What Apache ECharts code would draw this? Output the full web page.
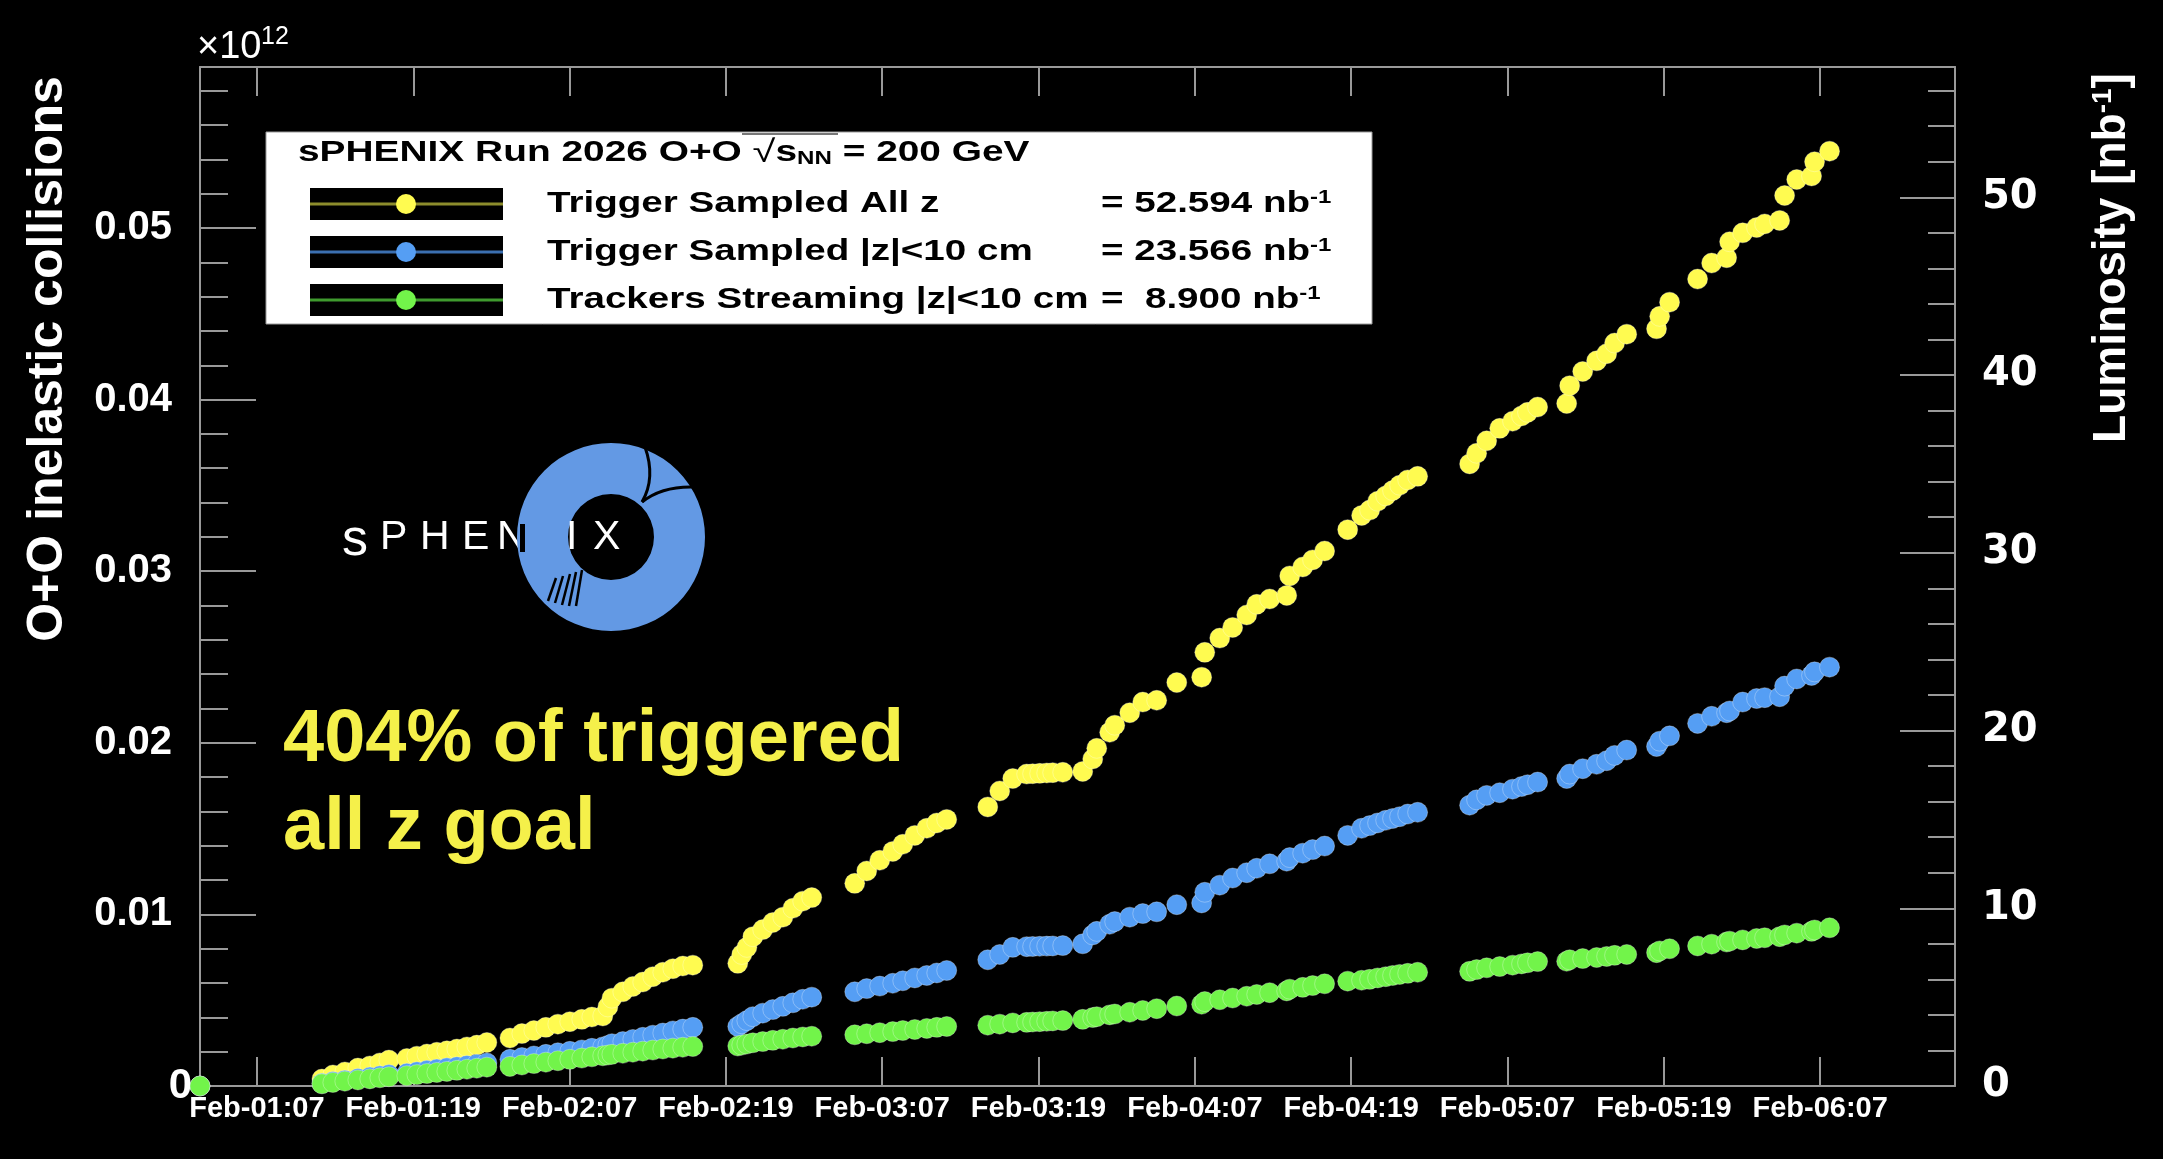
<!DOCTYPE html>
<html>
<head>
<meta charset="utf-8">
<script src="https://cdn.jsdelivr.net/npm/echarts/dist/echarts.min.js"></script>
<style>
html,body{margin:0;padding:0;background:#000;}
#chart{width:2163px;height:1159px;}
</style>
</head>
<body>
<div id="chart"></div>
<script>
// ---------------- DATA ----------------
// x = hours since Feb-01 00:00 (local time), y = integrated luminosity [nb^-1]
const hours = [2.63,
  11.99, 12.83, 13.75, 14.75, 15.67, 16.44, 17.13,
  18.51, 19.28, 20.05, 20.81, 21.58, 22.35, 23.12, 23.88, 24.65,
  26.42, 27.34, 28.26, 29.18, 30.10, 31.02, 31.94, 32.71,
  33.55, 33.94, 34.25, 35.09, 35.86, 36.62, 37.39, 38.16, 38.93, 39.69, 40.46,
  43.91, 44.22, 44.61, 45.07, 45.83, 46.60, 47.37, 48.14, 48.90, 49.59,
  52.89, 53.81, 54.81, 55.81, 56.58, 57.50, 58.42, 59.19, 59.95,
  63.10, 64.02, 65.02, 66.09, 66.55, 67.09, 67.63, 68.09, 68.86, 70.39, 71.16, 71.47, 72.46, 72.85, 74.00, 75.00, 76.07, 77.61,
  79.52, 79.76, 80.91, 81.90, 82.98, 83.75, 84.74, 86.05, 86.28, 87.28, 88.04, 88.96,
  90.73,
  91.80, 92.42, 93.03, 93.65, 94.18, 94.72, 95.34, 96.10,
  100.09, 100.63, 101.40, 102.40, 103.39, 104.08, 104.54, 105.31,
  107.54, 107.77, 108.77, 109.84, 110.61, 111.22, 112.15,
  114.44, 114.68, 115.44,
  117.59, 118.67, 119.82, 120.05, 121.05, 122.12, 122.74, 123.89, 124.27, 125.20, 126.34, 126.57, 127.72];

const lumiAllZ = [0,
  0.39, 0.62, 0.79, 1.01, 1.13, 1.30, 1.46,
  1.55, 1.68, 1.80, 1.90, 1.98, 2.08, 2.20, 2.30, 2.45,
  2.70, 2.95, 3.12, 3.30, 3.48, 3.62, 3.75, 3.88,
  3.94, 4.45, 4.94, 5.30, 5.60, 5.85, 6.15, 6.40, 6.60, 6.75, 6.80,
  6.90, 7.40, 7.80, 8.40, 8.80, 9.20, 9.50, 10.00, 10.40, 10.60,
  11.40, 12.10, 12.70, 13.20, 13.60, 14.10, 14.50, 14.80, 15.00,
  15.70, 16.60, 17.30, 17.55, 17.57, 17.59, 17.61, 17.63, 17.65, 17.70, 18.40, 19.00, 19.90, 20.30, 21.00, 21.60, 21.70, 22.70,
  23.00, 24.40, 25.20, 25.80, 26.50, 27.10, 27.40, 27.60, 28.70, 29.20, 29.60, 30.10,
  31.30,
  32.10, 32.40, 32.90, 33.20, 33.50, 33.80, 34.10, 34.30,
  35.00, 35.60, 36.30, 37.00, 37.40, 37.70, 37.90, 38.20,
  38.40, 39.40, 40.20, 40.80, 41.20, 41.80, 42.30,
  42.60, 43.30, 44.10,
  45.40, 46.30, 46.60, 47.50, 48.00, 48.30, 48.50, 48.70, 50.10, 51.00, 51.20, 52.00, 52.594];

const lumiZ10 = [0,
  0.15, 0.25, 0.33, 0.42, 0.50, 0.57, 0.64,
  0.72, 0.80, 0.88, 0.95, 1.02, 1.09, 1.16, 1.23, 1.30,
  1.50, 1.60, 1.69, 1.78, 1.87, 1.95, 2.03, 2.12,
  2.20, 2.28, 2.38, 2.50, 2.62, 2.74, 2.86, 2.98, 3.10, 3.20, 3.30,
  3.35, 3.50, 3.68, 3.90, 4.10, 4.30, 4.48, 4.68, 4.88, 5.00,
  5.30, 5.48, 5.62, 5.78, 5.92, 6.08, 6.22, 6.36, 6.50,
  7.10, 7.40, 7.80, 7.84, 7.85, 7.86, 7.87, 7.88, 7.90, 8.00, 8.50, 8.70, 9.10, 9.25, 9.50, 9.70, 9.80, 10.20,
  10.30, 10.90, 11.30, 11.70, 12.00, 12.25, 12.50, 12.65, 12.85, 13.10, 13.30, 13.50,
  14.10,
  14.50, 14.65, 14.80, 14.95, 15.05, 15.15, 15.30, 15.40,
  15.80, 16.10, 16.35, 16.50, 16.70, 16.85, 16.95, 17.10,
  17.30, 17.55, 17.85, 18.10, 18.30, 18.60, 18.90,
  19.10, 19.40, 19.70,
  20.40, 20.80, 21.00, 21.10, 21.60, 21.80, 21.85, 21.90, 22.50, 22.90, 23.10, 23.30, 23.566];

const lumiStream = [0,
  0.12, 0.20, 0.27, 0.34, 0.40, 0.46, 0.52,
  0.58, 0.64, 0.70, 0.76, 0.82, 0.88, 0.94, 1.00, 1.06,
  1.10, 1.18, 1.26, 1.34, 1.42, 1.50, 1.57, 1.64,
  1.70, 1.74, 1.78, 1.84, 1.90, 1.96, 2.02, 2.08, 2.13, 2.18, 2.22,
  2.25, 2.30, 2.36, 2.43, 2.50, 2.57, 2.63, 2.70, 2.76, 2.80,
  2.88, 2.94, 3.00, 3.06, 3.12, 3.18, 3.24, 3.30, 3.35,
  3.42, 3.48, 3.55, 3.58, 3.60, 3.62, 3.64, 3.66, 3.68, 3.75, 3.85, 3.90, 4.00, 4.05, 4.15, 4.25, 4.35, 4.50,
  4.60, 4.75, 4.85, 4.95, 5.05, 5.15, 5.25, 5.35, 5.45, 5.55, 5.65, 5.75,
  5.90,
  5.95, 6.00, 6.08, 6.15, 6.22, 6.28, 6.34, 6.40,
  6.45, 6.55, 6.65, 6.72, 6.80, 6.87, 6.93, 7.00,
  7.02, 7.10, 7.17, 7.23, 7.29, 7.35, 7.40,
  7.50, 7.60, 7.72,
  7.88, 7.98, 8.10, 8.15, 8.22, 8.30, 8.34, 8.40, 8.50, 8.60, 8.70, 8.78, 8.90];

const seriesNames = ['Trigger Sampled All z', 'Trigger Sampled |z|<10 cm', 'Trackers Streaming |z|<10 cm'];
const seriesTotals = ['52.594', '23.566', ' 8.900'];

const tickHours  = [7, 19, 31, 43, 55, 67, 79, 91, 103, 115, 127];
const tickLabels = ['Feb-01:07','Feb-01:19','Feb-02:07','Feb-02:19','Feb-03:07','Feb-03:19',
                    'Feb-04:07','Feb-04:19','Feb-05:07','Feb-05:19','Feb-06:07'];

const X_MIN = 2.63, X_MAX = 137.35;
const Y_LEFT_MAX = 0.05938;   // x10^12 collisions
const Y_RIGHT_MAX = 57.33;    // nb^-1

// ---------------- STYLE ----------------
const YELLOW = '#FFFB50', BLUE = '#559EF4', GREEN = '#72F44A';
const LINE_COLORS = ['#8C8C2C', '#3B6FB0', '#3F9A2E'];
const FRAME = '#999999';
const LOGO_BLUE = '#6399E4';
const FONT = '"Liberation Sans", Arial, Helvetica, sans-serif';

const chart = echarts.init(document.getElementById('chart'), null, {renderer: 'canvas'});

function mk(vals){ return hours.map((h, i) => [h, vals[i]]); }

function isMult(v, step){ const k = v / step; return Math.abs(k - Math.round(k)) < 1e-6; }

const leftLabelFmt = v => {
  if (!isMult(v, 0.01)) return '';
  const k = Math.round(v / 0.01);
  return k === 0 ? '{z|0}' : (k / 100).toFixed(2);
};
const rightLabelFmt = v => isMult(v, 10) ? String(Math.round(v)) : '';
const xLabelFmt = v => {
  const i = tickHours.findIndex(h => Math.abs(h - v) < 1e-6);
  return i >= 0 ? tickLabels[i] : '';
};

const tickStyle = {color: FRAME, width: 2};

// legend graphics
const colors = [YELLOW, BLUE, GREEN];
const legendEls = [
  {type:'rect', shape:{x:266, y:132, width:1106, height:192}, style:{fill:'#ffffff', stroke:'#9a9a9a', lineWidth:1}, z:20},
  {type:'text', x:298, y:153, scaleX:1.34, z:21, style:{
      text:'{b|sPHENIX Run 2026 O+O }{r|\u221A}{b|s}{sub|NN}{b| = 200 GeV}',
      align:'left', verticalAlign:'middle', textAlign:'left', textVerticalAlign:'middle',
      rich:{
        b:{fontSize:29, fontWeight:'bold', fontFamily:FONT, fill:'#000', color:'#000'},
        r:{fontSize:31, fontWeight:'normal', fontFamily:FONT, fill:'#000', color:'#000'},
        sub:{fontSize:18, fontWeight:'bold', fontFamily:FONT, fill:'#000', color:'#000', verticalAlign:'bottom', padding:[12,0,0,0]}
      }}},
  {type:'line', shape:{x1:742, y1:134, x2:838, y2:134}, style:{stroke:'#777', lineWidth:2}, z:21}
];
for (let i = 0; i < 3; i++) {
  const cy = 204 + 48 * i;
  legendEls.push(
    {type:'rect', shape:{x:310, y:cy-16, width:193, height:32}, style:{fill:'#000'}, z:21},
    {type:'line', shape:{x1:310, y1:cy, x2:503, y2:cy}, style:{stroke:LINE_COLORS[i], lineWidth:3}, z:22},
    {type:'circle', shape:{cx:406, cy:cy, r:10}, style:{fill:colors[i]}, z:23},
    {type:'text', x:547, y:cy, scaleX:1.33, z:22, style:{
        text:seriesNames[i], fill:'#000', font:'bold 29px ' + FONT,
        align:'left', verticalAlign:'middle', textAlign:'left', textVerticalAlign:'middle'}},
    {type:'text', x:1101, y:cy, scaleX:1.33, z:22, style:{
        text:'{m|= ' + seriesTotals[i] + ' nb}{s|-1}',
        align:'left', verticalAlign:'middle', textAlign:'left', textVerticalAlign:'middle',
        rich:{
          m:{fontSize:29, fontWeight:'bold', fontFamily:FONT, fill:'#000', color:'#000'},
          s:{fontSize:18, fontWeight:'bold', fontFamily:FONT, fill:'#000', color:'#000', verticalAlign:'top'}
        }}}
  );
}

// sPHENIX logo graphics
const logoLetters = [['s',342,541,52],['P',380,538,41],['H',420,538,41],['E',462,538,41]];
const logoEls = [];
logoLetters.forEach(l => logoEls.push({type:'text', x:l[1], y:l[2], z:10, z2:1, style:{
  text:l[0], fill:'#fff', font:'normal ' + l[3] + 'px ' + FONT, align:'left', verticalAlign:'middle',
  textAlign:'left', textVerticalAlign:'middle'}}));
logoEls.push(
  {type:'text', x:497, y:538, z:10, z2:1, style:{text:'N', fill:'#fff', font:'normal 41px ' + FONT,
    align:'left', verticalAlign:'middle', textAlign:'left', textVerticalAlign:'middle'}},
  {type:'ring', shape:{cx:611, cy:537, r:94, r0:43}, style:{fill:LOGO_BLUE}, z:10, z2:2},
  {type:'rect', shape:{x:520, y:524, width:5, height:28}, style:{fill:'#000'}, z:10, z2:3},
  {type:'bezierCurve', shape:{x1:645, y1:447, cpx1:656, cpy1:478, x2:642, y2:502}, style:{stroke:'#000', lineWidth:3, fill:null}, z:10, z2:3},
  {type:'bezierCurve', shape:{x1:642, y1:502, cpx1:662, cpy1:486, x2:694, y2:487}, style:{stroke:'#000', lineWidth:3, fill:null}, z:10, z2:3}
);
[[548,601,556,578],[555,603,563,576],[562,605,570,574],[569,606,576,572],[576,606,582,570]].forEach(s =>
  logoEls.push({type:'line', shape:{x1:s[0], y1:s[1], x2:s[2], y2:s[3]}, style:{stroke:'#000', lineWidth:2.5}, z:10, z2:3}));
logoEls.push(
  {type:'text', x:566, y:538, z:10, z2:4, style:{text:'I', fill:'#fff', font:'normal 41px ' + FONT,
    align:'left', verticalAlign:'middle', textAlign:'left', textVerticalAlign:'middle'}},
  {type:'text', x:593, y:538, z:10, z2:4, style:{text:'X', fill:'#fff', font:'normal 41px ' + FONT,
    align:'left', verticalAlign:'middle', textAlign:'left', textVerticalAlign:'middle'}}
);

const textEls = [
  // exponent of left axis
  {type:'text', x:197, y:48, z:10, style:{text:'\u00D710', fill:'#fff', font:'normal 38px ' + FONT,
    align:'left', verticalAlign:'middle', textAlign:'left', textVerticalAlign:'middle'}},
  {type:'text', x:261, y:37, z:10, style:{text:'12', fill:'#fff', font:'normal 25px ' + FONT,
    align:'left', verticalAlign:'middle', textAlign:'left', textVerticalAlign:'middle'}},
  // axis titles
  {type:'text', x:48, y:359, rotation:Math.PI/2, z:10, style:{text:'O+O inelastic collisions', fill:'#fff',
    font:'bold 50px ' + FONT, align:'center', verticalAlign:'middle', textAlign:'center', textVerticalAlign:'middle'}},
  {type:'text', x:2112, y:258, rotation:Math.PI/2, z:10, style:{
    text:'{m|Luminosity [nb}{s|-1}{m|]}', align:'center', verticalAlign:'middle', textAlign:'center', textVerticalAlign:'middle',
    rich:{
      m:{fontSize:46, fontWeight:'bold', fontFamily:FONT, fill:'#fff', color:'#fff'},
      s:{fontSize:28, fontWeight:'bold', fontFamily:FONT, fill:'#fff', color:'#fff', verticalAlign:'top'}
    }}},
  // annotation
  {type:'text', x:283, y:741, z:10, style:{text:'404% of triggered', fill:'#F5F04A', font:'bold 74px ' + FONT,
    align:'left', verticalAlign:'middle', textAlign:'left', textVerticalAlign:'middle'}},
  {type:'text', x:283, y:829, z:10, style:{text:'all z goal', fill:'#F5F04A', font:'bold 74px ' + FONT,
    align:'left', verticalAlign:'middle', textAlign:'left', textVerticalAlign:'middle'}}
];

const markerStyle = c => ({color:c, opacity:1, borderColor:'rgba(255,255,255,0.30)', borderWidth:1});

const option = {
  backgroundColor: '#000',
  animation: false,
  grid: {left:200, right:208, top:67, bottom:73, containLabel:false},
  xAxis: [
    {type:'value', min:X_MIN, max:X_MAX, position:'bottom',
     axisLine:{show:true, onZero:false, lineStyle:{color:FRAME, width:2}},
     axisTick:{show:true, inside:true, length:29, customValues:tickHours, lineStyle:tickStyle},
     axisLabel:{show:true, customValues:tickHours, formatter:xLabelFmt, color:'#fff', fontSize:29,
                fontWeight:'bold', fontFamily:FONT, margin:8, hideOverlap:false},
     splitLine:{show:false}},
    {type:'value', min:X_MIN, max:X_MAX, position:'top',
     axisLine:{show:true, onZero:false, lineStyle:{color:FRAME, width:2}},
     axisTick:{show:true, inside:true, length:29, customValues:tickHours, lineStyle:tickStyle},
     axisLabel:{show:false}, splitLine:{show:false}}
  ],
  yAxis: [
    {type:'value', min:0, max:Y_LEFT_MAX, interval:0.002, position:'left',
     axisLine:{show:true, onZero:false, lineStyle:{color:FRAME, width:2}},
     axisTick:{show:true, inside:true, length:28, lineStyle:tickStyle},
     axisLabel:{show:true, formatter:leftLabelFmt, color:'#fff', fontSize:40, fontWeight:'bold',
                fontFamily:FONT, margin:28, showMaxLabel:false,
                rich:{z:{fontSize:42, fontWeight:'bold', fontFamily:FONT, color:'#fff', padding:[0,-20,0,0]}}},
     splitLine:{show:false}},
    {type:'value', min:0, max:Y_LEFT_MAX, interval:0.01, position:'left',
     axisLine:{show:false}, axisTick:{show:true, inside:true, length:56, lineStyle:tickStyle},
     axisLabel:{show:false}, splitLine:{show:false}},
    {type:'value', min:0, max:Y_RIGHT_MAX, interval:2, position:'right',
     axisLine:{show:true, onZero:false, lineStyle:{color:FRAME, width:2}},
     axisTick:{show:true, inside:true, length:27, lineStyle:tickStyle},
     axisLabel:{show:true, formatter:rightLabelFmt, color:'#fff', fontSize:40, fontWeight:'bold',
                fontFamily:'"DejaVu Sans", sans-serif', margin:27, showMaxLabel:false},
     splitLine:{show:false}},
    {type:'value', min:0, max:Y_RIGHT_MAX, interval:10, position:'right',
     axisLine:{show:false}, axisTick:{show:true, inside:true, length:55, lineStyle:tickStyle},
     axisLabel:{show:false}, splitLine:{show:false}}
  ],
  series: [
    {name:seriesNames[0], type:'scatter', xAxisIndex:0, yAxisIndex:2, data:mk(lumiAllZ),
     symbol:'circle', symbolSize:20, itemStyle:markerStyle(YELLOW), z:3},
    {name:seriesNames[1], type:'scatter', xAxisIndex:0, yAxisIndex:2, data:mk(lumiZ10),
     symbol:'circle', symbolSize:20, itemStyle:markerStyle(BLUE), z:4},
    {name:seriesNames[2], type:'scatter', xAxisIndex:0, yAxisIndex:2, data:mk(lumiStream),
     symbol:'circle', symbolSize:20, itemStyle:markerStyle(GREEN), z:5}
  ],
  graphic: {elements: [].concat(logoEls, textEls, legendEls)}
};

chart.setOption(option);
</script>
</body>
</html>
